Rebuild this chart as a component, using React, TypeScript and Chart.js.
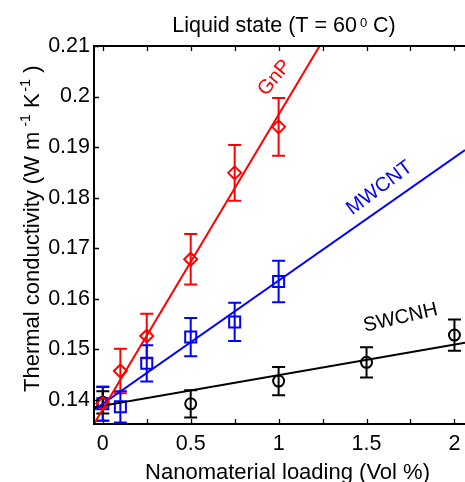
import React, { useEffect, useRef } from "react";
import { Chart, registerables } from "chart.js";

Chart.register(...registerables);

// ---- data ----
const gnpX = [0, 0.1, 0.25, 0.5, 0.75, 1];
const gnpY = [0.1392, 0.1457, 0.1526, 0.1678, 0.1849, 0.194];
const gnpErr = [0.0034, 0.0044, 0.0044, 0.005, 0.0055, 0.0057];

const mwX = [0, 0.1, 0.25, 0.5, 0.75, 1];
const mwY = [0.1392, 0.1386, 0.1472, 0.1524, 0.1554, 0.1634];
const mwErr = [0.0033, 0.0031, 0.0036, 0.0038, 0.0038, 0.0041];

const swX = [0, 0.5, 1, 1.5, 2];
const swY = [0.1395, 0.1392, 0.1437, 0.1474, 0.1528];
const swErr = [0.0022, 0.0027, 0.0028, 0.003, 0.0031];

const gnpFitX = [-0.05, 1.3];
const gnpFitY = [0.1352, 0.2139];
const mwFitX = [-0.05, 2.06];
const mwFitY = [0.138, 0.1894];
const swFitX = [-0.05, 2.06];
const swFitY = [0.1385, 0.1513];

const xTicks = [0, 0.25, 0.5, 0.75, 1, 1.25, 1.5, 1.75, 2];
const xLabeled = [0, 0.5, 1, 1.5, 2];
const yTicks = [0.14, 0.15, 0.16, 0.17, 0.18, 0.19, 0.2, 0.21];

const RED = "#ff0000";
const BLUE = "#0000ff";
const BLACK = "#000000";
const FONT = '"Liberation Sans", Arial, Helvetica, sans-serif';

const seriesList = [
  { xs: gnpX, ys: gnpY, es: gnpErr, color: RED },
  { xs: mwX, ys: mwY, es: mwErr, color: BLUE },
  { xs: swX, ys: swY, es: swErr, color: BLACK },
];

const curveLabels = [
  { text: "GnP", x: 0.977, y: 0.2037, angle: -50, color: RED },
  { text: "MWCNT", x: 1.574, y: 0.1819, angle: -37, color: BLUE },
  { text: "SWCNH", x: 1.693, y: 0.1562, angle: -13, color: BLACK },
];

const pts = (xs: number[], ys: number[]) => xs.map((x, i) => ({ x, y: ys[i] }));

type Piece = { t: string; sup?: boolean; gap?: number };

function drawRich(ctx: CanvasRenderingContext2D, pieces: Piece[], x: number, y: number, size: number, supSize: number, raise: number, center: boolean) {
  const widths = pieces.map((p) => {
    ctx.font = `${p.sup ? supSize : size}px ${FONT}`;
    return ctx.measureText(p.t).width + (p.gap || 0);
  });
  const total = widths.reduce((a, b) => a + b, 0);
  let cx = center ? x - total / 2 : x;
  ctx.textAlign = "left";
  ctx.textBaseline = "alphabetic";
  pieces.forEach((p, i) => {
    ctx.font = `${p.sup ? supSize : size}px ${FONT}`;
    cx += p.gap || 0;
    ctx.fillText(p.t, cx, p.sup ? y - raise : y);
    cx += widths[i] - (p.gap || 0);
  });
}

const decorPlugin = {
  id: "decor",
  beforeDatasetsDraw(chart: any) {
    const { ctx, chartArea: a, scales } = chart;
    const xs = scales.x;
    const ys = scales.y;
    ctx.save();
    ctx.beginPath();
    ctx.rect(a.left, a.top, a.right - a.left, a.bottom - a.top);
    ctx.clip();
    ctx.lineWidth = 2;
    seriesList.forEach((s) => {
      ctx.strokeStyle = s.color;
      s.xs.forEach((xv, i) => {
        const px = xs.getPixelForValue(xv);
        const top = ys.getPixelForValue(s.ys[i] + s.es[i]);
        const bot = ys.getPixelForValue(s.ys[i] - s.es[i]);
        const hw = 6.5;
        ctx.beginPath();
        ctx.moveTo(px, top);
        ctx.lineTo(px, bot);
        ctx.moveTo(px - hw, top);
        ctx.lineTo(px + hw, top);
        ctx.moveTo(px - hw, bot);
        ctx.lineTo(px + hw, bot);
        ctx.stroke();
      });
    });
    ctx.restore();
  },
  afterDraw(chart: any) {
    const { ctx, chartArea: a, scales } = chart;
    const xs = scales.x;
    const ys = scales.y;
    ctx.save();
    // frame
    ctx.strokeStyle = "#000";
    ctx.lineWidth = 2;
    ctx.beginPath();
    ctx.moveTo(a.right, a.top);
    ctx.lineTo(a.left, a.top);
    ctx.lineTo(a.left, a.bottom);
    ctx.lineTo(a.right, a.bottom);
    ctx.stroke();
    // inward ticks
    ctx.lineWidth = 1.3;
    const tl = 5;
    ctx.beginPath();
    xTicks.forEach((v) => {
      const px = Math.round(xs.getPixelForValue(v)) + 0.5;
      ctx.moveTo(px, a.bottom);
      ctx.lineTo(px, a.bottom - tl);
      ctx.moveTo(px, a.top);
      ctx.lineTo(px, a.top + tl);
    });
    yTicks.forEach((v) => {
      const py = Math.round(ys.getPixelForValue(v)) + 0.5;
      ctx.moveTo(a.left, py);
      ctx.lineTo(a.left + tl, py);
    });
    ctx.stroke();

    // curve labels
    curveLabels.forEach((l) => {
      ctx.save();
      ctx.translate(xs.getPixelForValue(l.x), ys.getPixelForValue(l.y));
      ctx.rotate((l.angle * Math.PI) / 180);
      ctx.fillStyle = l.color;
      ctx.font = `20px ${FONT}`;
      ctx.textAlign = "center";
      ctx.textBaseline = "middle";
      ctx.fillText(l.text, 0, 0);
      ctx.restore();
    });

    ctx.fillStyle = "#000";
    // title
    drawRich(
      ctx,
      [{ t: "Liquid state (T = 60" }, { t: "0", sup: true, gap: 3 }, { t: " C)" }],
      284,
      31.5,
      21.5,
      13,
      5,
      true
    );
    // x title
    drawRich(ctx, [{ t: "Nanomaterial loading (Vol %)" }], 287.5, 478.5, 22, 14, 0, true);
    // y title
    ctx.save();
    ctx.translate(39, 392);
    ctx.rotate(-Math.PI / 2);
    drawRich(
      ctx,
      [
        { t: "Thermal conductivity (W m" },
        { t: "-1", sup: true, gap: 5 },
        { t: " K" },
        { t: "-1", sup: true, gap: 2 },
        { t: " )" },
      ],
      0,
      0,
      22,
      14,
      9,
      false
    );
    ctx.restore();
    ctx.restore();
  },
};

export default function App() {
  const ref = useRef<HTMLCanvasElement>(null);
  useEffect(() => {
    const canvas = ref.current;
    if (!canvas) return;
    const chart = new Chart(canvas, {
      type: "scatter",
      data: {
        datasets: [
          { data: pts(gnpFitX, gnpFitY), showLine: true, borderColor: RED, borderWidth: 2, pointRadius: 0 },
          { data: pts(mwFitX, mwFitY), showLine: true, borderColor: BLUE, borderWidth: 2, pointRadius: 0 },
          { data: pts(swFitX, swFitY), showLine: true, borderColor: BLACK, borderWidth: 2, pointRadius: 0 },
          {
            data: pts(gnpX, gnpY),
            pointStyle: "rectRot",
            pointRadius: 6.5,
            borderColor: RED,
            backgroundColor: "rgba(0,0,0,0)",
            borderWidth: 2,
          },
          {
            data: pts(mwX, mwY),
            pointStyle: "rect",
            pointRadius: 7.8,
            borderColor: BLUE,
            backgroundColor: "rgba(0,0,0,0)",
            borderWidth: 2,
          },
          {
            data: pts(swX, swY),
            pointStyle: "circle",
            pointRadius: 5.5,
            borderColor: BLACK,
            backgroundColor: "rgba(0,0,0,0)",
            borderWidth: 2,
          },
        ] as any,
      },
      options: {
        animation: false,
        responsive: false,
        maintainAspectRatio: false,
        layout: { autoPadding: false, padding: { top: 46, right: 0, left: 0, bottom: 0 } },
        plugins: { legend: { display: false }, tooltip: { enabled: false }, title: { display: false } },
        scales: {
          x: {
            type: "linear",
            min: -0.05,
            max: 2.06,
            grid: { display: false, drawTicks: false },
            border: { display: false },
            ticks: {
              autoSkip: false,
              maxRotation: 0,
              padding: 7,
              color: "#000",
              font: { size: 21.5, family: FONT },
              callback: (v: any) => {
                const n = Number(v);
                return xLabeled.some((t) => Math.abs(t - n) < 1e-9) ? String(n) : "";
              },
            },
            afterBuildTicks: (s: any) => {
              s.ticks = xTicks.map((v) => ({ value: v }));
            },
            afterFit: (s: any) => {
              s.height = 58;
              s.paddingLeft = 0;
              s.paddingRight = 0;
            },
          },
          y: {
            type: "linear",
            min: 0.1352,
            max: 0.21,
            grid: { display: false, drawTicks: false },
            border: { display: false },
            ticks: {
              padding: 4,
              color: "#000",
              font: { size: 21.5, family: FONT },
              callback: (v: any) => String(Number(Number(v).toFixed(2))),
            },
            afterBuildTicks: (s: any) => {
              s.ticks = yTicks.map((v) => ({ value: v }));
            },
            afterFit: (s: any) => {
              s.width = 94;
              s.paddingTop = 0;
              s.paddingBottom = 0;
            },
          },
        },
      } as any,
      plugins: [decorPlugin],
    });
    return () => chart.destroy();
  }, []);
  return (
    <div style={{ position: "fixed", left: 0, top: 0, width: 465, height: 482, background: "#fff" }}>
      <canvas ref={ref} width={465} height={482} style={{ display: "block", width: 465, height: 482 }} />
    </div>
  );
}
